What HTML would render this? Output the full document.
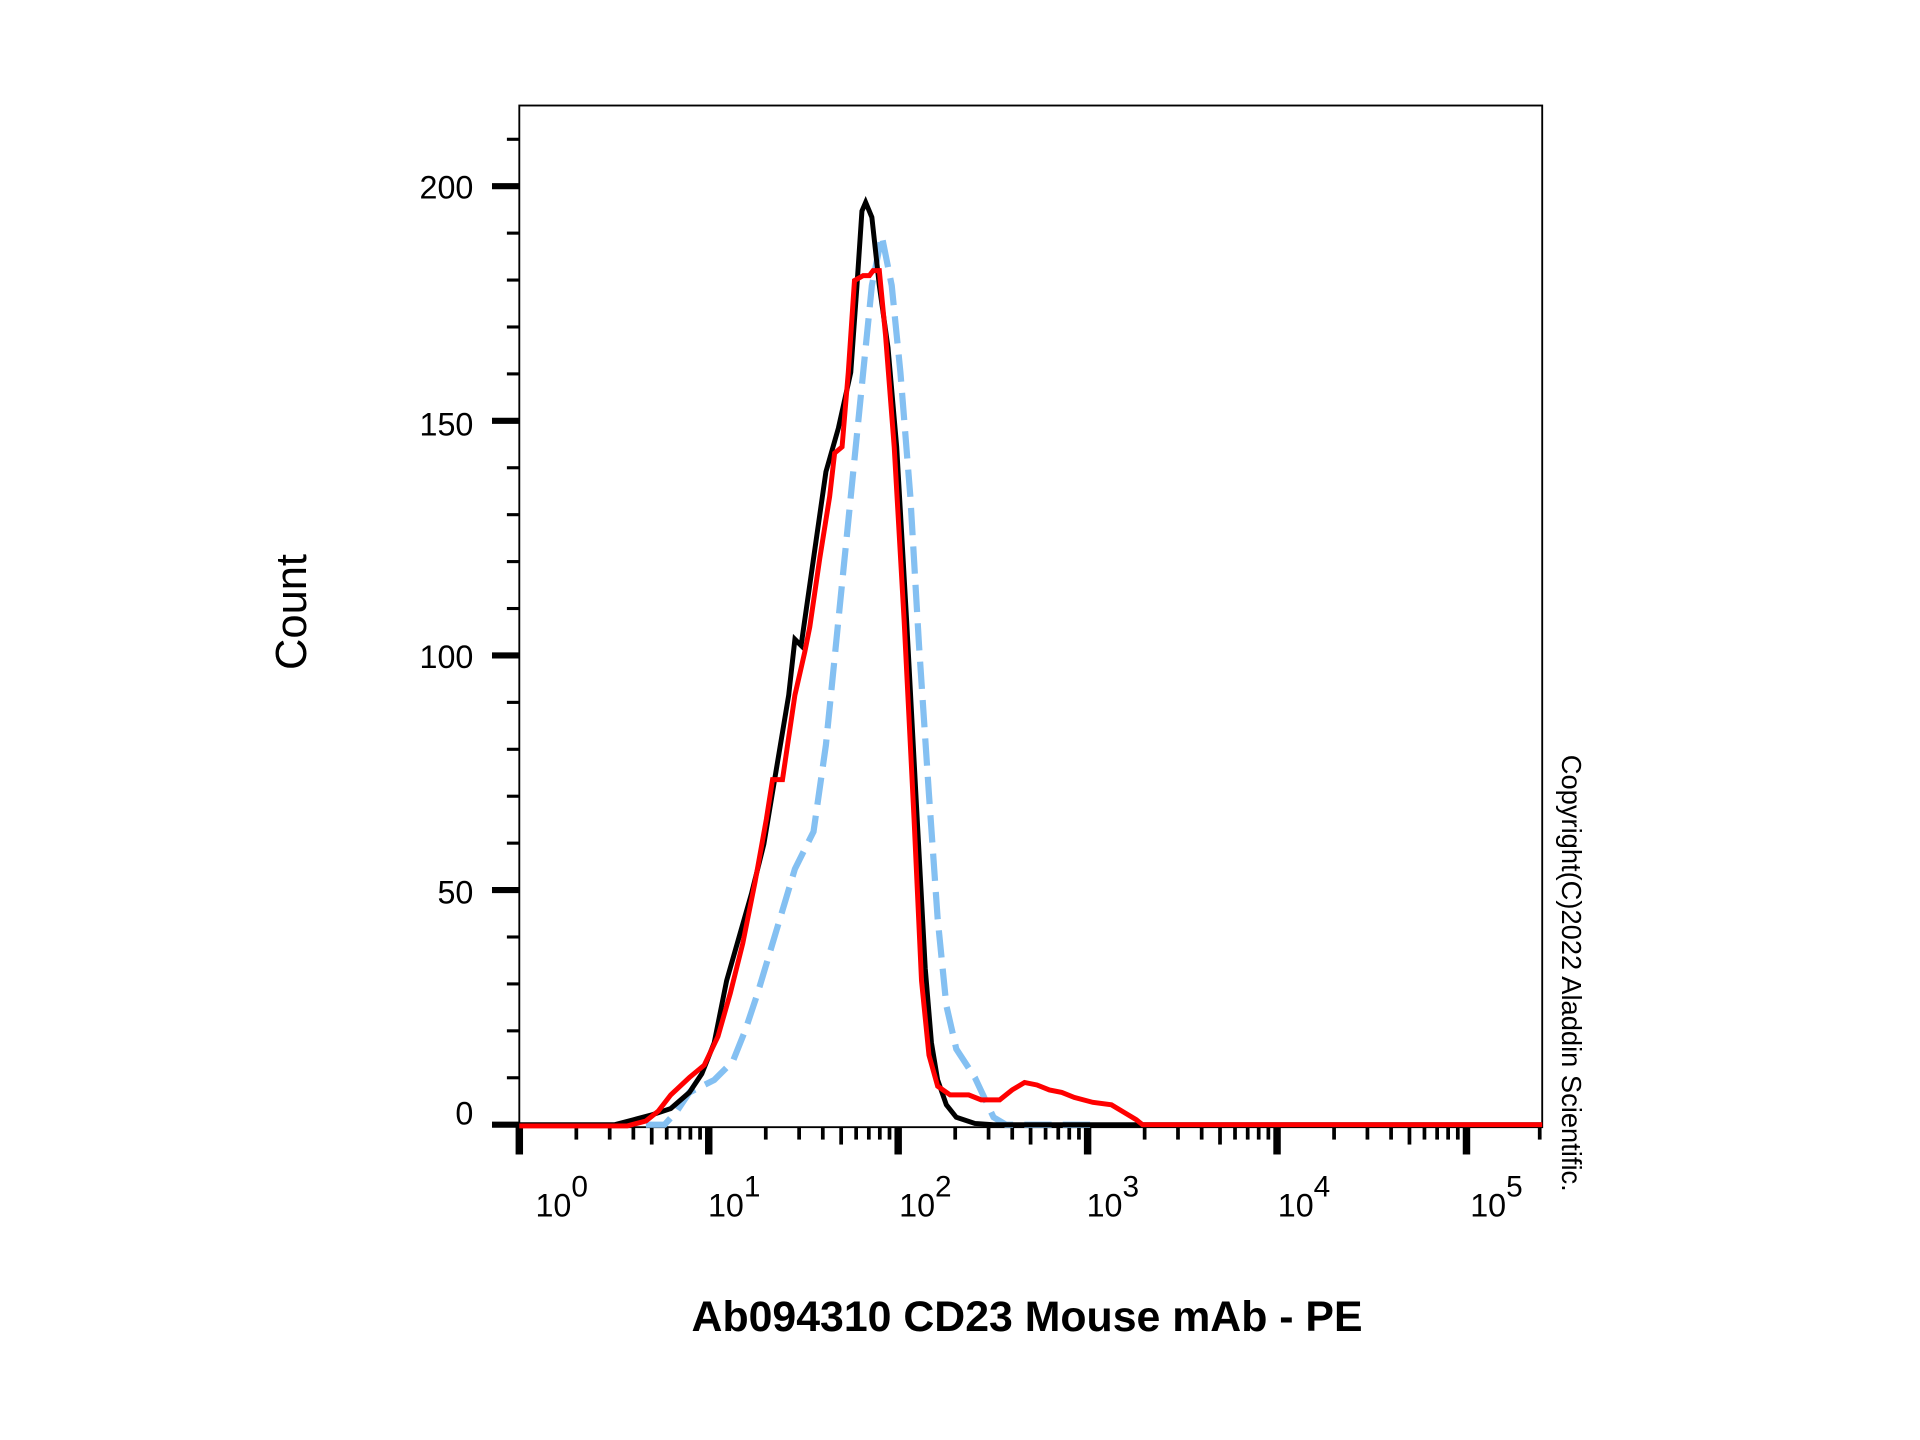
<!DOCTYPE html>
<html><head><meta charset="utf-8"><style>
html,body{margin:0;padding:0;background:#fff;}
svg{display:block;}
text{font-family:"Liberation Sans",Arial,sans-serif;fill:#000;}
</style></head><body>
<svg id="s" width="1920" height="1440" viewBox="0 0 1546 1160" xmlns="http://www.w3.org/2000/svg">
<rect x="418" y="85" width="824" height="823" fill="none" stroke="#000" stroke-width="1.5"/>
<g id="ticks" stroke="#000"></g>
<g font-size="26" text-anchor="end">
<text x="381" y="160">200</text>
<text x="381" y="351">150</text>
<text x="381" y="538">100</text>
<text x="381" y="728">50</text>
<text x="381" y="906">0</text>
</g>
<g font-size="26">
<text x="431" y="980">10<tspan dy="-16" font-size="24">0</tspan></text>
<text x="570" y="980">10<tspan dy="-16" font-size="24">1</tspan></text>
<text x="724" y="980">10<tspan dy="-16" font-size="24">2</tspan></text>
<text x="875" y="980">10<tspan dy="-16" font-size="24">3</tspan></text>
<text x="1029" y="980">10<tspan dy="-16" font-size="24">4</tspan></text>
<text x="1184" y="980">10<tspan dy="-16" font-size="24">5</tspan></text>
</g>
<text transform="translate(246,493) rotate(-90)" font-size="35" text-anchor="middle">Count</text>
<text x="827" y="1072" font-size="34.5" font-weight="bold" text-anchor="middle">Ab094310 CD23 Mouse mAb - PE</text>
<text transform="translate(1258,608) rotate(90)" font-size="22">Copyright(C)2022 Aladdin Scientific.</text>
<polyline fill="none" stroke="#84c0f2" stroke-width="5" stroke-dasharray="22,9" points="520,906 535,906 545,895 555,880 575,870 590,855 600,830 610,800 625,750 640,700 655,670 665,600 675,500 685,400 695,300 702,230 710,190 718,230 725,300 733,400 740,520 748,640 755,740 762,810 770,845 785,868 800,900 810,906 880,906"/>
<polyline fill="none" stroke="#000" stroke-width="4" points="418,906 495,906 510,902 525,898 540,893 555,880 565,865 575,840 585,790 595,755 605,720 615,680 625,620 635,560 640,515 645,520 655,450 665,380 675,345 685,300 690,230 694,170 697,163 702,175 708,230 715,280 722,360 730,500 738,650 745,780 750,840 755,870 762,890 770,900 785,905 800,906 1242,906"/>
<polyline fill="none" stroke="#f00" stroke-width="4" points="418,907 505,907 520,903 530,895 540,882 555,868 567,858 578,835 588,800 598,760 608,710 617,660 622,628 630,628 640,560 648,525 652,505 660,450 668,400 672,365 678,360 683,300 688,226 695,222 700,222 703,218 708,218 713,270 720,360 728,500 736,660 742,790 748,850 755,875 765,882 780,882 790,886 805,886 815,878 825,872 835,874 845,878 855,880 865,884 880,888 895,890 905,896 915,902 920,906 935,906 1242,906"/>
</svg>
<script>
var g=document.getElementById('ticks'),ns='http://www.w3.org/2000/svg';
function L(x1,y1,x2,y2,w){var l=document.createElementNS(ns,'line');l.setAttribute('x1',x1);l.setAttribute('y1',y1);l.setAttribute('x2',x2);l.setAttribute('y2',y2);l.setAttribute('stroke-width',w);g.appendChild(l);}
for(var v=0;v<=210;v+=10){var y=906-v*3.78;if(v%50==0)L(396,y,418,y,5);else L(408,y,418,y,2.5);}
var x0=418,d=152.6;
for(var e=0;e<=5;e++){var xb=x0+e*d;L(xb,908,xb,930,6);
 if(e<5)for(var k=2;k<=9;k++){var x=xb+Math.log10(k)*d;if(x>1240)continue;L(x,908,x,k==5?922:918,3);}}
L(1240,908,1240,918,3);
</script>
</body></html>
